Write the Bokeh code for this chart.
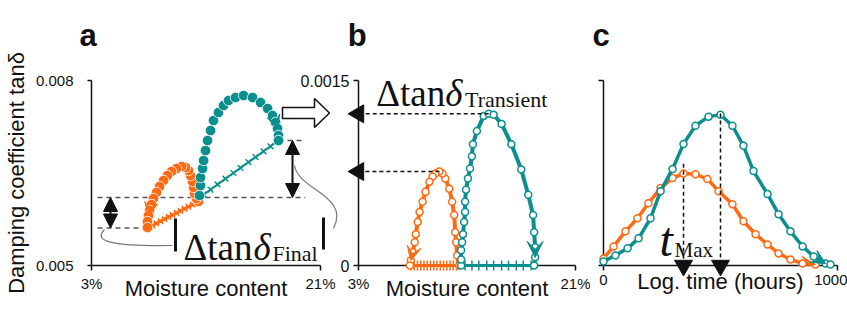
import math
from bokeh.plotting import figure
from bokeh.layouts import row
from bokeh.models import Range1d, FixedTicker, Arrow, NormalHead, VeeHead
from bokeh.core.properties import value
from bokeh.embed import file_html
from bokeh.resources import INLINE

# ---------------- data ----------------
# Panel a: damping coefficient tan(delta) vs moisture content (%)
a_or_cross_mc = [7.40, 7.64, 7.95, 8.27, 8.58, 8.90, 9.21, 9.53, 9.84, 10.15, 10.47, 10.78, 11.10, 11.41]
a_or_cross_tan = [0.005608, 0.005634, 0.005666, 0.005701, 0.005735, 0.005769, 0.005803, 0.005835,
                  0.005869, 0.005903, 0.005937, 0.005970, 0.006004, 0.006038]
a_or_loop_mc = [11.41, 11.25, 11.10, 11.02, 10.94, 10.78, 10.63, 10.39, 10.08, 9.68, 9.29, 8.97,
                8.66, 8.35, 8.11, 7.87, 7.72, 7.56, 7.48, 7.40, 7.40]
a_or_loop_tan = [0.006038, 0.006086, 0.006168, 0.006265, 0.006362, 0.006459, 0.006540, 0.006589,
                 0.006605, 0.006573, 0.006524, 0.006459, 0.006378, 0.006281, 0.006184, 0.006086,
                 0.005989, 0.005892, 0.005811, 0.005713, 0.005616]
a_te_cross_mc = [11.49, 11.81, 12.36, 12.91, 13.53, 14.16, 14.71, 15.34, 15.89, 16.52, 17.07, 17.70]
a_te_cross_tan = [0.006103, 0.006150, 0.006231, 0.006314, 0.006408, 0.006500, 0.006583, 0.006677,
                  0.006758, 0.006852, 0.006933, 0.007027]
a_te_loop_mc = [11.49, 11.57, 11.57, 11.73, 11.81, 11.96, 12.12, 12.36, 12.59, 12.98, 13.38, 13.77,
                14.32, 14.95, 15.66, 16.29, 16.84, 17.23, 17.47, 17.62, 17.70, 17.70]
a_te_loop_tan = [0.006135, 0.006297, 0.006427, 0.006573, 0.006703, 0.006865, 0.007027, 0.007189,
                 0.007351, 0.007481, 0.007595, 0.007676, 0.007724, 0.007757, 0.007724, 0.007643,
                 0.007546, 0.007432, 0.007319, 0.007222, 0.007108, 0.007027]

# Panel b: transient change of tan(delta) vs moisture content (%)
b_or_cross_mc = [7.35, 7.62, 7.89, 8.16, 8.43, 8.70, 8.97, 9.24, 9.51, 9.78, 10.05, 10.32, 10.59, 10.86, 11.13]
b_or_loop_mc = [11.35, 11.18, 11.10, 11.02, 10.94, 10.77, 10.53, 10.20, 9.96, 9.71, 9.38, 9.14,
                8.89, 8.56, 8.32, 8.07, 7.91, 7.75, 7.66, 7.50, 7.34, 7.26]
b_or_loop_dtan = [0.0, 0.000082, 0.000189, 0.000270, 0.000410, 0.000516, 0.000623, 0.000705,
                  0.000746, 0.000762, 0.000746, 0.000721, 0.000680, 0.000598, 0.000516, 0.000434,
                  0.000352, 0.000254, 0.000189, 0.000107, 0.000041, 0.0]
b_te_cross_mc = [11.84, 12.41, 12.98, 13.64, 14.21, 14.87, 15.44, 16.09, 16.67, 17.32]
b_te_loop_mc = [11.51, 11.51, 11.51, 11.59, 11.67, 11.76, 11.84, 11.84, 11.92, 12.08, 12.25, 12.41,
                12.49, 12.82, 13.39, 13.80, 14.21, 14.87, 15.68, 16.50, 17.08, 17.48, 17.57, 17.65,
                17.65, 17.57]
b_te_loop_dtan = [0.0, 0.000049, 0.000123, 0.000189, 0.000254, 0.000352, 0.000434, 0.000516,
                  0.000615, 0.000705, 0.000787, 0.000885, 0.000984, 0.001090, 0.001213, 0.001230,
                  0.001222, 0.001148, 0.000984, 0.000779, 0.000574, 0.000410, 0.000270, 0.000148,
                  0.000066, 0.0]

# Panel c: transient change of tan(delta) vs log time (0 ... 1000 h)
c_or_time = [0, 43, 94, 145, 192, 244, 295, 342, 393, 444, 492, 551, 598, 650, 701, 748, 799, 851, 906]
c_or_dtan = [0.000057, 0.000155, 0.000277, 0.000383, 0.000505, 0.000628, 0.000709, 0.000745,
             0.000740, 0.000701, 0.000603, 0.000497, 0.000359, 0.000253, 0.000171, 0.000098,
             0.000049, 0.000016, 0.000008]
c_te_time = [0, 51, 103, 150, 201, 244, 295, 342, 393, 449, 500, 551, 598, 641, 701, 748, 799, 851,
             898, 949, 970]
c_te_dtan = [0.000033, 0.000082, 0.000139, 0.000220, 0.000383, 0.000603, 0.000783, 0.000986,
             0.001133, 0.001207, 0.001222, 0.001133, 0.000970, 0.000766, 0.000579, 0.000416,
             0.000277, 0.000155, 0.000073, 0.000016, 0.000008]

a_xticks = [3, 21]
a_yticks = [0.005, 0.008]
b_yticks = [0, 0.0015]
c_xticks = [0, 1000]

# ---------------- style ----------------
ORANGE = "#FF6A13"
TEAL = "#0B8F8E"
INK = "#111111"
SANS = "Liberation Sans"
SERIF = "Liberation Serif"

# frame geometry (page pixels; the page body has no margin)
TOP, BOTTOM = 80, 265
A_L, A_R = 91, 320
B_L, B_R = 355, 575
C_L, C_R = 603, 837
A_END, B_START, B_END, PAGE_W, PAGE_H = 345, 297, 590, 847, 309


def make_fig(xr, yr, width, mb_left, mb_right):
    p = figure(width=width, height=PAGE_H, x_range=Range1d(*xr), y_range=Range1d(*yr),
               output_backend="svg", toolbar_location=None,
               min_border_left=mb_left, min_border_right=mb_right,
               min_border_top=TOP, min_border_bottom=PAGE_H - BOTTOM)
    p.xgrid.visible = False
    p.ygrid.visible = False
    p.outline_line_color = None
    p.background_fill_color = None
    p.border_fill_color = None
    for ax in (p.xaxis[0], p.yaxis[0]):
        ax.axis_line_width = 1.5
        ax.axis_line_color = INK
        ax.major_tick_line_width = 1.5
        ax.major_tick_line_color = INK
        ax.major_tick_in = 0
        ax.major_tick_out = 5
        ax.minor_tick_line_color = None
        ax.major_label_text_font = SANS
        ax.major_label_text_font_size = "15px"
        ax.major_label_text_color = INK
        ax.axis_label_text_font = SANS
        ax.axis_label_text_font_size = "22px"
        ax.axis_label_text_font_style = "normal"
        ax.axis_label_text_color = INK
    p.xaxis[0].major_label_standoff = 4
    p.xaxis[0].axis_label_standoff = -19
    return p


def mapper(px0, px1, d0, d1):
    def f(px):
        return d0 + (px - px0) * (d1 - d0) / (px1 - px0)
    return f


def label(p, x, y, text, size, font=SANS, style="normal"):
    p.text(x=[x], y=[y], text=[text], text_font=value(font), text_font_size=value(size),
           text_font_style=style, text_color=INK, text_baseline="alphabetic",
           text_align="left", level="overlay")


def vee(p, xs, ys, i, color, size=13):
    p.add_layout(Arrow(x_start=xs[i - 1], y_start=ys[i - 1], x_end=xs[i], y_end=ys[i],
                       line_color=None, level="overlay",
                       end=VeeHead(size=size, fill_color=color, line_color=color, line_width=1)))


# ================= panel a =================
pa = make_fig((3, 21), (0.005, 0.008), A_END, A_L, A_END - A_R)
ax_a = mapper(A_L, A_R, 3, 21)
ay_a = mapper(BOTTOM, TOP, 0.005, 0.008)
pa.xaxis[0].ticker = FixedTicker(ticks=a_xticks)
pa.xaxis[0].major_label_overrides = {3: "3%", 21: "21%"}
pa.xaxis[0].axis_label = "Moisture content"
pa.yaxis[0].ticker = FixedTicker(ticks=a_yticks)
pa.yaxis[0].major_label_overrides = {0.005: "0.005", 0.008: "0.008"}
pa.yaxis[0].major_tick_out = 4
pa.yaxis[0].major_label_standoff = 14
pa.yaxis[0].axis_label = "Damping coefficient tanδ"
pa.yaxis[0].axis_label_standoff = 4

y_low, y_mid, y_high = a_or_cross_tan[0], a_te_cross_tan[0], a_te_cross_tan[-1]
pa.segment(x0=[ax_a(97), ax_a(97), a_te_cross_mc[-1]], y0=[y_low, y_mid, y_high],
           x1=[a_or_cross_mc[0], ax_a(305), ax_a(305)], y1=[y_low, y_mid, y_high],
           line_color="#555555", line_width=1.5, line_dash="5 4")

pa.line(a_or_cross_mc, a_or_cross_tan, line_color=ORANGE, line_width=2.5)
pa.scatter(a_or_cross_mc, a_or_cross_tan, marker="cross", size=8, line_color=ORANGE, line_width=1.5)
pa.line(a_or_loop_mc, a_or_loop_tan, line_color=ORANGE, line_width=2)
pa.scatter(a_or_loop_mc, a_or_loop_tan, marker="circle", size=10.5, fill_color=ORANGE,
           line_color="white", line_width=0.8)
pa.line(a_te_cross_mc, a_te_cross_tan, line_color=TEAL, line_width=2)
pa.scatter(a_te_cross_mc, a_te_cross_tan, marker="x", size=8, line_color=TEAL, line_width=1.5)
pa.line(a_te_loop_mc, a_te_loop_tan, line_color=TEAL, line_width=2)
pa.scatter(a_te_loop_mc, a_te_loop_tan, marker="circle", size=10.5, fill_color=TEAL,
           line_color="white", line_width=0.8)
vee(pa, a_or_loop_mc, a_or_loop_tan, 18, ORANGE)
vee(pa, a_te_loop_mc, a_te_loop_tan, 19, TEAL)

# double arrows for the final change
for xpx, y0, y1 in ((110, y_low, y_mid), (292, y_mid, y_high)):
    pa.add_layout(Arrow(x_start=ax_a(xpx), y_start=y0, x_end=ax_a(xpx), y_end=y1,
                        line_color=INK, line_width=2, level="overlay",
                        start=NormalHead(size=14, fill_color=INK, line_color=INK),
                        end=NormalHead(size=14, fill_color=INK, line_color=INK)))

# thin connector lines to the label
pa.bezier(x0=[ax_a(104), ax_a(294)], y0=[ay_a(229), ay_a(165)],
          x1=[ax_a(172), ax_a(333)], y1=[ay_a(245), ay_a(228)],
          cx0=[ax_a(92), ax_a(298)], cy0=[ay_a(241), ay_a(190)],
          cx1=[ax_a(112), ax_a(350)], cy1=[ay_a(246), ay_a(195)],
          line_color="#777777", line_width=1.2, level="overlay")
# absolute value bars
pa.segment(x0=[ax_a(175), ax_a(323)], y0=[ay_a(218), ay_a(217)],
           x1=[ax_a(175), ax_a(323)], y1=[ay_a(251), ay_a(249)],
           line_color=INK, line_width=3, level="overlay")
# hollow arrow towards panel b
pa.patch(x=[ax_a(282), ax_a(314), ax_a(314), ax_a(329), ax_a(314), ax_a(314), ax_a(282)],
         y=[ay_a(107), ay_a(107), ay_a(98), ay_a(112.5), ay_a(127), ay_a(118), ay_a(118)],
         fill_color="white", line_color=INK, line_width=1.5, level="overlay")

label(pa, ax_a(183), ay_a(247), "Δtan", "37px", SERIF)
label(pa, ax_a(253), ay_a(247), "δ", "37px", SERIF, "italic")
label(pa, ax_a(272), ay_a(253), "Final", "22px", SERIF)
label(pa, ax_a(79), ay_a(35), "a", "31px", SANS, "bold")

# ================= panel b =================
pb = make_fig((3, 21), (0, 0.0015), B_END - B_START, B_L - B_START, B_END - B_R)
pb.margin = (0, 0, 0, B_START - A_END)
ax_b = mapper(B_L, B_R, 3, 21)
ay_b = mapper(BOTTOM, TOP, 0, 0.0015)
pb.xaxis[0].ticker = FixedTicker(ticks=a_xticks)
pb.xaxis[0].major_label_overrides = {3: "3%", 21: "21%"}
pb.xaxis[0].axis_label = "Moisture content"
pb.yaxis[0].ticker = FixedTicker(ticks=b_yticks)
pb.yaxis[0].major_label_overrides = {0: "0", 0.0015: "0.0015"}
pb.yaxis[0].major_label_text_font_size = "16px"
pb.yaxis[0].major_label_standoff = 4

pb.line(b_or_cross_mc, [0.0] * len(b_or_cross_mc), line_color=ORANGE, line_width=3, level="overlay")
pb.scatter(b_or_cross_mc, [0.0] * len(b_or_cross_mc), marker="cross", size=10, line_color=ORANGE,
           line_width=1.5, level="overlay")
pb.line(b_or_loop_mc, b_or_loop_dtan, line_color=ORANGE, line_width=4, level="overlay")
pb.scatter(b_or_loop_mc, b_or_loop_dtan, marker="circle", size=7, fill_color="white",
           line_color=ORANGE, line_width=1.5, level="overlay")
pb.line(b_te_cross_mc, [0.0] * len(b_te_cross_mc), line_color=TEAL, line_width=3, level="overlay")
pb.scatter(b_te_cross_mc, [0.0] * len(b_te_cross_mc), marker="cross", size=10, line_color=TEAL,
           line_width=1.5, level="overlay")
pb.line(b_te_loop_mc, b_te_loop_dtan, line_color=TEAL, line_width=4, level="overlay")
pb.scatter(b_te_loop_mc, b_te_loop_dtan, marker="circle", size=7, fill_color="white",
           line_color=TEAL, line_width=1.5, level="overlay")
vee(pb, b_or_loop_mc, b_or_loop_dtan, 20, ORANGE, 14)
vee(pb, b_te_loop_mc, b_te_loop_dtan, 24, TEAL, 16)

# dashed projections of the two maxima onto the y axis
b_peak_x, b_peak_y = [], []
for xs, ys in ((b_te_loop_mc, b_te_loop_dtan), (b_or_loop_mc, b_or_loop_dtan)):
    i = ys.index(max(ys))
    b_peak_x.append(xs[i])
    b_peak_y.append(ys[i])
pb.segment(x0=b_peak_x, y0=b_peak_y, x1=[a_xticks[0]] * 2, y1=b_peak_y,
           line_color=INK, line_width=1.5, line_dash="4 3", level="overlay")
pb.scatter([a_xticks[0]] * 2, b_peak_y, marker="triangle", angle=math.pi / 2, size=18,
           fill_color=INK, line_color=INK, level="overlay")

label(pb, ax_b(373), ay_b(93), "Δtan", "37px", SERIF)
label(pb, ax_b(443), ay_b(93), "δ", "37px", SERIF, "italic")
label(pb, ax_b(463), ay_b(99), "Transient", "22px", SERIF)
label(pb, ax_b(344), ay_b(35), "b", "31px", SANS, "bold")

# ================= panel c =================
pc = make_fig((0, 1000), (0, 0.0015), PAGE_W - B_END, C_L - B_END, PAGE_W - C_R)
ax_c = mapper(C_L, C_R, 0, 1000)
ay_c = mapper(BOTTOM, TOP, 0, 0.0015)
pc.xaxis[0].ticker = FixedTicker(ticks=c_xticks)
pc.xaxis[0].axis_label = "Log. time (hours)"
pc.yaxis[0].ticker = FixedTicker(ticks=b_yticks)
pc.yaxis[0].major_label_overrides = {0: "", 0.0015: ""}
pc.yaxis[0].major_label_standoff = 0

pc.line(c_or_time, c_or_dtan, line_color=ORANGE, line_width=3.5, level="overlay")
pc.scatter(c_or_time, c_or_dtan, marker="circle", size=7, fill_color="white",
           line_color=ORANGE, line_width=1.5, level="overlay")
pc.line(c_te_time, c_te_dtan, line_color=TEAL, line_width=3.5, level="overlay")
pc.scatter(c_te_time, c_te_dtan, marker="circle", size=7, fill_color="white",
           line_color=TEAL, line_width=1.5, level="overlay")
vee(pc, c_or_time, c_or_dtan, 18, ORANGE, 14)
vee(pc, c_te_time, c_te_dtan, 19, TEAL, 14)

# dashed drop lines from the maxima (t_Max) onto the time axis
c_peak_t, c_peak_top = [], []
for xs, ys, pad in ((c_or_time, c_or_dtan, 0.00008), (c_te_time, c_te_dtan, 0.00001)):
    i = ys.index(max(ys))
    c_peak_t.append(xs[i])
    c_peak_top.append(ys[i] + pad)
pc.segment(x0=c_peak_t, y0=c_peak_top, x1=c_peak_t, y1=[0.0, 0.0],
           line_color=INK, line_width=1.5, line_dash="4 3", level="overlay")
pc.scatter(c_peak_t, [0.0, 0.0], marker="triangle", angle=math.pi, size=18,
           fill_color=INK, line_color=INK, level="overlay")

label(pc, ax_c(659), ay_c(239), "t", "48px", SERIF, "italic")
label(pc, ax_c(674), ay_c(249), "Max", "21px", SERIF)
label(pc, ax_c(592), ay_c(35), "c", "31px", SANS, "bold")

layout = row(pa, pb, pc)
open("out.html", "w").write(file_html(layout, INLINE))
